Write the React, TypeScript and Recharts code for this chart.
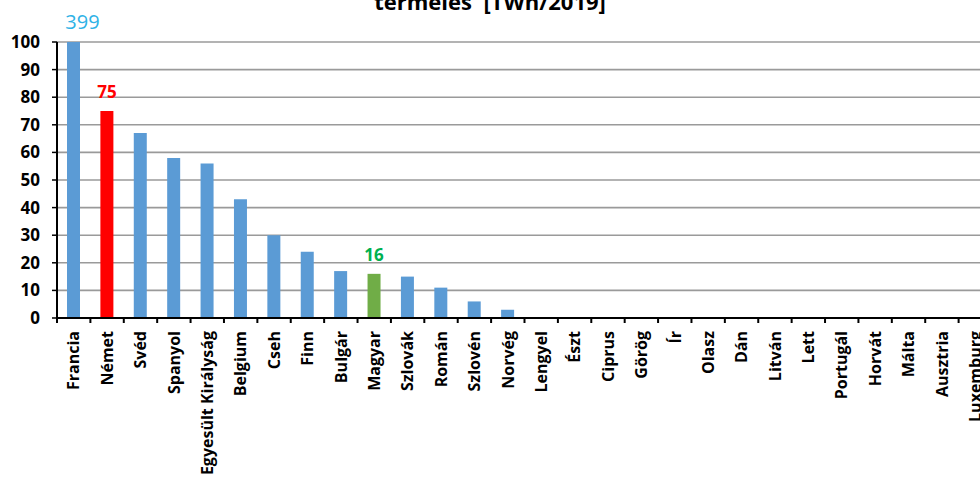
import React from 'react';
import { BarChart, Bar, XAxis, YAxis, CartesianGrid, Cell, LabelList } from 'recharts';

// Countries, ordered by nuclear generation
const countries = [
  'Francia', 'Német', 'Svéd', 'Spanyol', 'Egyesült Királyság', 'Belgium', 'Cseh',
  'Finn', 'Bulgár', 'Magyar', 'Szlovák', 'Román', 'Szlovén', 'Norvég', 'Lengyel',
  'Észt', 'Ciprus', 'Görög', 'Ír', 'Olasz', 'Dán', 'Litván', 'Lett', 'Portugál',
  'Horvát', 'Málta', 'Ausztria', 'Luxemburg',
];

// Generation in TWh (2019)
const generationTWh = [
  399, 75, 67, 58, 56, 43, 30, 24, 17, 16, 15, 11, 6, 3, 0,
  0, 0, 0, 0, 0, 0, 0, 0, 0, 0, 0, 0, 0,
];

const yTicks = [0, 10, 20, 30, 40, 50, 60, 70, 80, 90, 100];
const titleLine = 'termelés  [TWh/2019]';

// Countries whose value is printed above the bar
const labelledCountries = ['Francia', 'Német', 'Magyar'];

const data = countries.map((name, i) => ({ name, value: generationTWh[i] }));

// Layout
const CHART_W = 1000;
const CHART_H = 477;
const PLOT_LEFT = 57;
const PLOT_RIGHT = 992;
const PLOT_TOP = 42;
const PLOT_BOTTOM = 318;
const BAND = (PLOT_RIGHT - PLOT_LEFT) / countries.length;
const FONT = '"Open Sans", "DejaVu Sans", sans-serif';

const BAR_BLUE = '#5B9BD5';
const barFill: Record<string, string> = { Német: '#FF0000', Magyar: '#70AD47' };
const labelStyle: Record<string, { color: string; size: number; weight: number; dx: number }> = {
  Francia: { color: '#2EB2E6', size: 20, weight: 400, dx: 9 },
  Német: { color: '#FF0000', size: 17, weight: 700, dx: 0 },
  Magyar: { color: '#00B050', size: 17, weight: 700, dx: 0 },
};

const ValueLabel = (props: any) => {
  const { x, y, width, value, index } = props;
  const name = countries[index];
  if (!labelledCountries.includes(name)) return null;
  const s = labelStyle[name];
  const top = Math.max(Number(y), PLOT_TOP);
  return (
    <text
      x={Number(x) + Number(width) / 2 + s.dx}
      y={top - 13}
      textAnchor="middle"
      fill={s.color}
      fontSize={s.size}
      fontWeight={s.weight}
      fontFamily={FONT}
    >
      {value}
    </text>
  );
};

const CategoryTick = (props: any) => {
  const { x, payload } = props;
  const edge = x - BAND / 2;
  return (
    <g>
      <line x1={edge} x2={edge} y1={PLOT_BOTTOM} y2={PLOT_BOTTOM + 5} stroke="#000" strokeWidth={2} />
      <text
        transform={`translate(${x},${PLOT_BOTTOM + 13}) rotate(-90)`}
        textAnchor="end"
        dy="0.36em"
        fill="#000"
        fontSize={16}
        fontWeight={700}
        fontFamily={FONT}
      >
        {payload.value}
      </text>
    </g>
  );
};

export default function App() {
  return (
    <div
      style={{
        position: 'absolute',
        left: 0,
        top: 0,
        width: 980,
        height: 477,
        overflow: 'hidden',
        background: '#fff',
      }}
    >
      <BarChart
        width={CHART_W}
        height={CHART_H}
        data={data}
        margin={{ top: PLOT_TOP, right: CHART_W - PLOT_RIGHT, bottom: 9, left: 0 }}
      >
        <CartesianGrid vertical={false} stroke="#9A9A9A" strokeWidth={1.6} />
        <XAxis
          dataKey="name"
          interval={0}
          height={CHART_H - PLOT_BOTTOM - 9}
          tickLine={false}
          axisLine={{ stroke: '#000', strokeWidth: 2 }}
          tick={<CategoryTick />}
        />
        <YAxis
          width={PLOT_LEFT}
          domain={[0, 100]}
          ticks={yTicks}
          interval={0}
          allowDataOverflow
          tickSize={5}
          tickMargin={12}
          tickLine={{ stroke: '#000', strokeWidth: 1.5 }}
          axisLine={{ stroke: '#000', strokeWidth: 2 }}
          tick={{ fill: '#000', fontSize: 17, fontWeight: 700, fontFamily: FONT }}
        />
        <Bar dataKey="value" barSize={13} isAnimationActive={false}>
          {data.map((d) => (
            <Cell key={d.name} fill={barFill[d.name] ?? BAR_BLUE} />
          ))}
          <LabelList dataKey="value" content={<ValueLabel />} />
        </Bar>
      </BarChart>
      <svg
        width={980}
        height={40}
        style={{ position: 'absolute', left: 0, top: 0, pointerEvents: 'none' }}
      >
        <text
          x={490}
          y={10}
          textAnchor="middle"
          fontSize={22}
          fontWeight={700}
          fontFamily={FONT}
          fill="#000"
          xmlSpace="preserve"
        >
          {titleLine}
        </text>
      </svg>
    </div>
  );
}
